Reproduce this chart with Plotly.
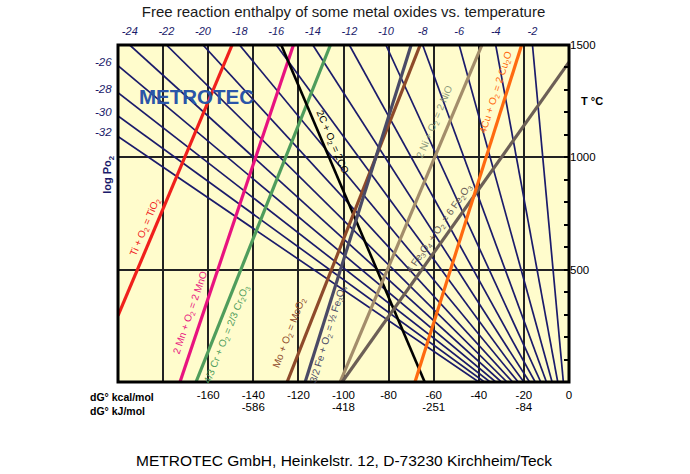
import plotly.graph_objects as go

# iso-oxygen-pressure lines (log Po2): dG at 0 °C and end point (top or left edge)
po2_log = [-2, -4, -6, -8, -10, -12, -14, -16, -18, -20, -22, -24, -26, -28, -30, -32]
po2_dg_start = [-2.5, -5.0, -7.5, -10.0, -12.5, -15.0, -17.5, -20.0, -22.5, -25.0,
                -27.5, -30.0, -32.5, -35.0, -37.5, -40.0]
po2_dg_end = [-16.2, -32.5, -48.7, -64.9, -81.2, -97.4, -113.6, -129.8, -146.1, -162.3,
              -178.5, -194.8, -200, -200, -200, -200]
po2_t_end = [1500, 1500, 1500, 1500, 1500, 1500, 1500, 1500, 1500, 1500,
             1500, 1500, 1408, 1288, 1184, 1093]

# oxide formation lines: (dG start, T start) -> (dG end, T end), kcal/mol and °C
reactions = ["Ti", "Mn", "Cr", "C", "Mo", "Fe", "Ni", "Fe3O4", "Cu"]
dg_start = [-200, -172.5, -165.4, -64.0, -125.0, -117.0, -101.5, -100.6, -68.3]
t_start = [295, 0, 0, 0, 0, 0, 0, 0, 0]
dg_end = [-149.4, -122.2, -105.8, -127.6, -66.0, -70.0, -38.6, 0, -21.0]
t_end = [1500, 1500, 1500, 1500, 1500, 1500, 1500, 1424, 1500]

kcal_ticks = [-180, -160, -140, -120, -100, -80, -60, -40, -20, 0]
kcal_text = ["", "-160", "-140", "-120", "-100", "-80", "-60", "-40", "-20", "0"]
kj_ticks = [-140, -100, -60, -20]
kj_text = ["-586", "-418", "-251", "-84"]

navy = "#1b1b6b"
colors = {"Ti": "#f0201c", "Mn": "#e8137f", "Cr": "#4f9d5c", "C": "#000000",
          "Mo": "#8e4a2a", "Fe": "#4a4a66", "Ni": "#a38d6b", "Fe3O4": "#6c5f56",
          "Cu": "#ff6a10"}
widths = {"C": 2.6}

fig = go.Figure()

for a, b, c in zip(po2_dg_start, po2_dg_end, po2_t_end):
    fig.add_trace(go.Scatter(x=[a, b], y=[0, c], mode="lines",
                             line=dict(color=navy, width=1.7),
                             hoverinfo="skip", showlegend=False))

for i, r in enumerate(reactions):
    fig.add_trace(go.Scatter(x=[dg_start[i], dg_end[i]], y=[t_start[i], t_end[i]],
                             mode="lines",
                             line=dict(color=colors[r], width=widths.get(r, 3.2)),
                             hoverinfo="skip", showlegend=False))

# dummy traces so the top log Po2 axis and the kJ axis are drawn
for ax in ["x2", "x3"]:
    fig.add_trace(go.Scatter(x=[-200, 0], y=[0, 0], xaxis=ax, mode="lines",
                             line=dict(width=0), hoverinfo="skip", showlegend=False))

# labels along the lines: (text, key, dG, T, angle)
labels = [
    ("Ti + O<sub>2</sub> = TiO<sub>2</sub>", "Ti", -188.0, 690, -67),
    ("2 Mn + O<sub>2</sub> = 2 MnO", "Mn", -168.0, 308, -71),
    ("4/3 Cr + O<sub>2</sub> = 2/3 Cr<sub>2</sub>O<sub>3</sub>", "Cr", -151.8, 214, -68),
    ("Mo + O<sub>2</sub> = MoO<sub>2</sub>", "Mo", -124.2, 219, -69),
    ("3/2 Fe + O<sub>2</sub> = ½ Fe<sub>3</sub>O<sub>4</sub>", "Fe", -106.9, 214, -73),
    ("2C + O<sub>2</sub> = 2CO", "C", -105.1, 1067, 67),
    ("2 Ni + O<sub>2</sub> = 2 NiO", "Ni", -59.5, 1156, -67),
    ("4 Fe<sub>3</sub>O<sub>4</sub> + O<sub>2</sub> = 6 Fe<sub>2</sub>O<sub>3</sub>", "Fe3O4", -57.5, 685, -55),
    ("4Cu + O<sub>2</sub> = 2 Cu<sub>2</sub>O", "Cu", -32.3, 1290, -72),
]
font_main = "Liberation Sans, Arial, sans-serif"
for text, key, x, y, ang in labels:
    col = colors[key]
    if key == "Ni":
        col = "#8d9a7c"
    fig.add_annotation(x=x, y=y, text=text, textangle=ang, showarrow=False,
                       font=dict(family=font_main, size=10, color=col))

# left log Po2 labels where lines leave through the left edge
for lp, dg, t in zip(po2_log, po2_dg_end, po2_t_end):
    if dg == -200:
        fig.add_annotation(x=-200, y=t, text=str(lp), showarrow=False,
                           xanchor="right", yanchor="middle", xshift=-4, yshift=4,
                           font=dict(family=font_main, size=11.5, color=navy, style="italic"))

fig.add_annotation(xref="paper", yref="paper", x=-0.022, y=0.615, text="log Po<sub>2</sub>",
                   xanchor="center", yanchor="middle", textangle=-90, showarrow=False,
                   font=dict(family=font_main, size=11, color=navy, weight="bold"))
fig.add_annotation(xref="paper", yref="paper", x=1.022, y=0.834, text="T °C",
                   xanchor="left", yanchor="middle", showarrow=False,
                   font=dict(family=font_main, size=11, color="black", weight="bold"))
fig.add_annotation(xref="paper", yref="paper", x=-0.067, y=-0.02,
                   text="dG° kcal/mol<br>dG° kJ/mol", align="left",
                   xanchor="left", yanchor="top", showarrow=False,
                   font=dict(family=font_main, size=10.5, color="black", weight="bold"))
fig.add_annotation(x=-165, y=1272, text="METROTEC", showarrow=False,
                   xanchor="center", yanchor="middle",
                   font=dict(family=font_main, size=20.5, color="#2a55a8", weight="bold"))
fig.add_annotation(xref="paper", yref="paper", x=0.5, y=-0.234,
                   xanchor="center", yanchor="middle",
                   text="METROTEC GmbH, Heinkelstr. 12, D-73230 Kirchheim/Teck",
                   showarrow=False, font=dict(family=font_main, size=15.5, color="black"))

fig.update_layout(
    width=690, height=474,
    margin=dict(l=118, r=121, t=45, b=92),
    paper_bgcolor="white",
    plot_bgcolor="#fffccc",
    title=dict(text="Free reaction enthalpy of some metal oxides vs. temperature",
               x=0.5, xref="paper", xanchor="center", y=0.975, yref="container",
               yanchor="middle", font=dict(family=font_main, size=15, color="#1a1a1a")),
    xaxis=dict(range=[-200, 0], tickvals=kcal_ticks, ticktext=kcal_text,
               showgrid=True, gridcolor="#222222", gridwidth=1.5, zeroline=False,
               ticks="", ticklabelstandoff=4,
               tickfont=dict(family=font_main, size=11.5, color="black")),
    xaxis2=dict(range=[-200, 0], overlaying="x", side="top", anchor="y",
                tickvals=[round(8.115 * v, 2) for v in po2_log[:12]],
                ticktext=[str(v) for v in po2_log[:12]],
                showgrid=False, zeroline=False, ticks="", ticklabelstandoff=7,
                tickfont=dict(family=font_main, size=11, color=navy, style="italic")),
    xaxis3=dict(range=[-200, 0], overlaying="x", side="bottom", anchor="y",
                tickvals=kj_ticks, ticktext=kj_text,
                showgrid=False, zeroline=False, ticks="", ticklabelstandoff=16,
                tickfont=dict(family=font_main, size=11.5, color="black")),
    yaxis=dict(range=[0, 1500], side="right", tickvals=[500, 1000, 1500],
               showgrid=True, gridcolor="#222222", gridwidth=1.5, zeroline=False,
               ticks="inside", ticklen=5, tickwidth=2, tickcolor="black",
               minor=dict(dtick=100, tick0=0, ticks="inside", ticklen=5, tickwidth=2,
                          tickcolor="black", showgrid=False),
               tickfont=dict(family=font_main, size=11.5, color="black")),
    shapes=[dict(type="rect", xref="paper", yref="paper", x0=0, y0=0, x1=1, y1=1,
                 line=dict(color="black", width=3), layer="above")],
)

fig.write_html("out.html", config={"displayModeBar": False},
               post_script="document.body.style.margin='0';")
